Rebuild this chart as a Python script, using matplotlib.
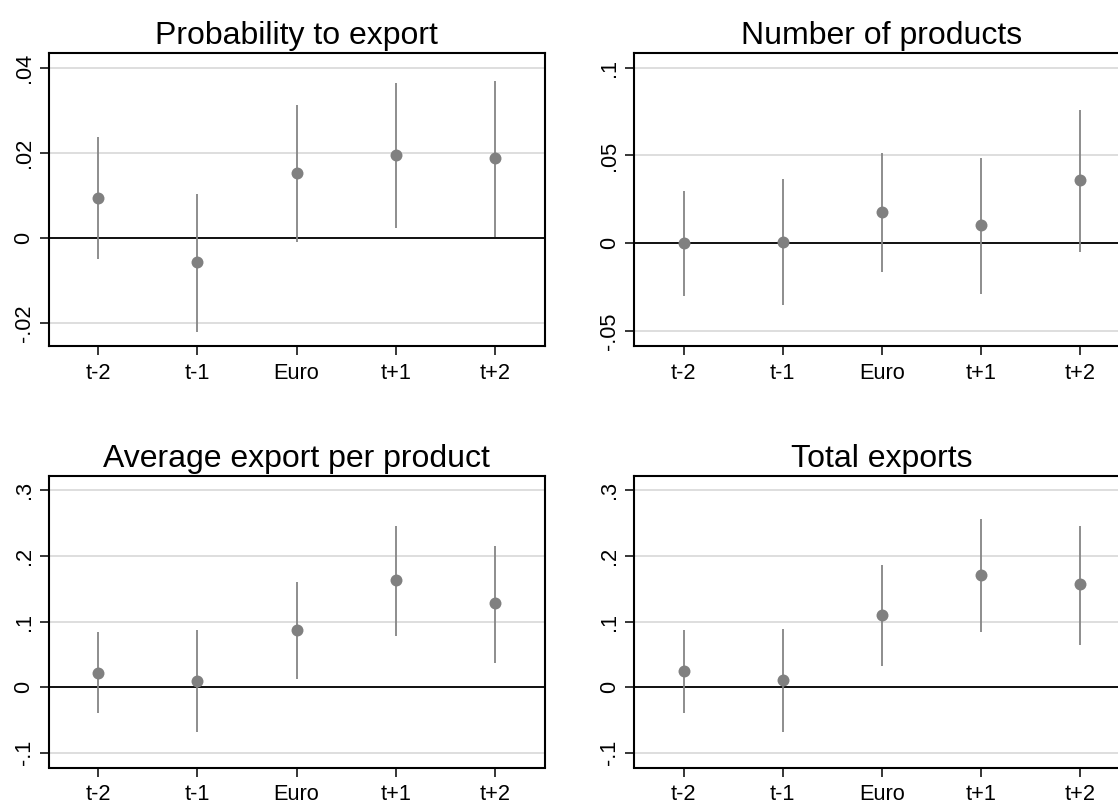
import matplotlib
matplotlib.use("Agg")
import matplotlib.pyplot as plt
from matplotlib.ticker import FuncFormatter

plt.rcParams['font.family'] = ['Liberation Sans', 'DejaVu Sans']

periods = ['t-2', 't-1', 'Euro', 't+1', 't+2']

# point estimates and 95% bands for each outcome
prob_coef = [0.0095, -0.0057, 0.0153, 0.0196, 0.0187]
prob_lo = [-0.0049, -0.0221, -0.0008, 0.0024, 0.0003]
prob_hi = [0.0237, 0.0104, 0.0312, 0.0365, 0.0368]

nprod_coef = [0.0000, 0.0010, 0.0178, 0.0102, 0.0358]
nprod_lo = [-0.0303, -0.0350, -0.0165, -0.0288, -0.0051]
nprod_hi = [0.0295, 0.0364, 0.0515, 0.0487, 0.0761]

avg_coef = [0.0223, 0.0091, 0.0873, 0.1635, 0.1279]
avg_lo = [-0.0401, -0.0680, 0.0122, 0.0782, 0.0365]
avg_hi = [0.0838, 0.0878, 0.1609, 0.2462, 0.2147]

tot_coef = [0.0244, 0.0107, 0.1096, 0.1706, 0.1569]
tot_lo = [-0.0391, -0.0680, 0.0330, 0.0843, 0.0645]
tot_hi = [0.0878, 0.0893, 0.1858, 0.2563, 0.2462]

titles = ['Probability to export', 'Number of products',
          'Average export per product', 'Total exports']
yticks = [[-0.02, 0, 0.02, 0.04], [-0.05, 0, 0.05, 0.1],
          [-0.1, 0, 0.1, 0.2, 0.3], [-0.1, 0, 0.1, 0.2, 0.3]]
ylims = [(-0.0253, 0.0435), (-0.0585, 0.1085), (-0.1224, 0.3218), (-0.1224, 0.3218)]

panels = [(prob_coef, prob_lo, prob_hi), (nprod_coef, nprod_lo, nprod_hi),
          (avg_coef, avg_lo, avg_hi), (tot_coef, tot_lo, tot_hi)]

W, H = 1118, 805
fig = plt.figure(figsize=(W / 100, H / 100), dpi=100)

# axes boxes in pixels: left, top, right, bottom
boxes = [(48.5, 52.7, 544.6, 346), (634, 52.7, 1130, 346),
         (48.5, 476, 544.6, 767.5), (634, 476, 1130, 767.5)]


def stata_fmt(v, pos):
    s = f"{v:g}"
    return s.replace("0.", ".")


grey = '#808080'
for i, (coef, lo, hi) in enumerate(panels):
    l, t, r, b = boxes[i]
    ax = fig.add_axes([l / W, 1 - b / H, (r - l) / W, (b - t) / H])
    x = list(range(1, len(periods) + 1))
    ax.vlines(x, lo, hi, color='#858585', lw=1.3, zorder=3)
    ax.plot(x, coef, 'o', color=grey, ms=8.6, mec='none', zorder=4)
    ax.axhline(0, color='black', lw=1.3, zorder=2)
    ax.set_xlim(0.5, 5.5)
    ax.set_ylim(*ylims[i])
    ax.set_xticks(x)
    ax.set_xticklabels(periods)
    ax.set_yticks(yticks[i])
    ax.yaxis.set_major_formatter(FuncFormatter(stata_fmt))
    for lab in ax.get_yticklabels():
        lab.set_rotation(90)
        lab.set_va('center')
    ax.grid(axis='y', color='#dedede', lw=1.4, zorder=0)
    ax.set_axisbelow(True)
    ax.tick_params(axis='both', length=6.5, width=1.1, color='black',
                   labelsize=15.7, direction='out')
    ax.tick_params(axis='x', pad=5.5)
    ax.tick_params(axis='y', pad=3.5)
    for sp in ax.spines.values():
        sp.set_linewidth(1.5)
        sp.set_color('black')
    ax.set_title(titles[i], fontsize=23, pad=6.5)

fig.savefig('out.png', dpi=100, facecolor='white')
